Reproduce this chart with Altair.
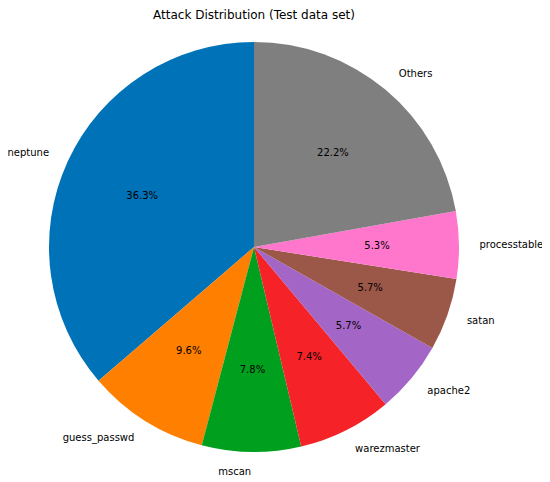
import altair as alt
import pandas as pd

# counter-clockwise from top, as in the reference
categories = ["neptune", "guess_passwd", "mscan", "warezmaster", "apache2", "satan", "processtable", "Others"]
percents = [36.3, 9.6, 7.8, 7.4, 5.7, 5.7, 5.3, 22.2]
colors = ["#0072b8", "#ff7f00", "#00a01e", "#f52228", "#a366c6", "#9b5748", "#ff77cc", "#7f7f7f"]

n = len(categories)
df = pd.DataFrame({
    "cat": categories,
    "pct": percents,
    # Vega draws clockwise, so reverse the draw order
    "ord": [n - i for i in range(n)],
})

CX, CY = 246, 209
R = 205

base = alt.Chart(df).transform_window(
    cum="sum(pct)", sort=[alt.SortField("ord", order="ascending")], frame=[None, 0]
).transform_calculate(
    start="datum.cum - datum.pct",
    end="datum.cum",
    mid="datum.cum - datum.pct / 2",
    label=alt.expr.format(alt.datum.pct / 100, ".1%"),
    side="sin(2 * PI * (datum.cum - datum.pct / 2) / 100) > 0 ? 'right' : 'left'",
)

theta_scale = alt.Scale(domain=[0, 100], range=[0, 6.283185307179586])
color_scale = alt.Scale(domain=categories, range=colors)

arcs = base.mark_arc(outerRadius=R, strokeWidth=0).encode(
    theta=alt.Theta("start:Q", scale=theta_scale, stack=None),
    theta2="end:Q",
    color=alt.Color("cat:N", scale=color_scale, legend=None),
    x=alt.value(CX),
    y=alt.value(CY),
)

pct_text = base.mark_text(radius=0.6 * R, fontSize=10, font="DejaVu Sans", color="black",
                          align="center", baseline="middle").encode(
    theta=alt.Theta("mid:Q", scale=theta_scale, stack=None),
    text="label:N",
    x=alt.value(CX),
    y=alt.value(CY),
)

lab_right = base.transform_filter(alt.datum.side == "right").mark_text(
    radius=1.1 * R, fontSize=10, font="DejaVu Sans", color="black", align="left", baseline="middle"
).encode(
    theta=alt.Theta("mid:Q", scale=theta_scale, stack=None),
    text="cat:N",
    x=alt.value(CX),
    y=alt.value(CY),
)

lab_left = base.transform_filter(alt.datum.side == "left").mark_text(
    radius=1.1 * R, fontSize=10, font="DejaVu Sans", color="black", align="right", baseline="middle"
).encode(
    theta=alt.Theta("mid:Q", scale=theta_scale, stack=None),
    text="cat:N",
    x=alt.value(CX),
    y=alt.value(CY),
)

chart = alt.layer(arcs, pct_text, lab_right, lab_left).properties(
    width=534,
    height=436,
    title=alt.TitleParams("Attack Distribution (Test data set)", font="DejaVu Sans", fontSize=12,
                          fontWeight="normal", color="black", anchor="middle", dx=-21, dy=-12),
    autosize=alt.AutoSizeParams(type="none"),
    padding={"left": 0, "top": 30, "right": 0, "bottom": 8},
).configure_view(stroke=None)

chart.save("out.html", embed_options={"renderer": "svg", "actions": False})
